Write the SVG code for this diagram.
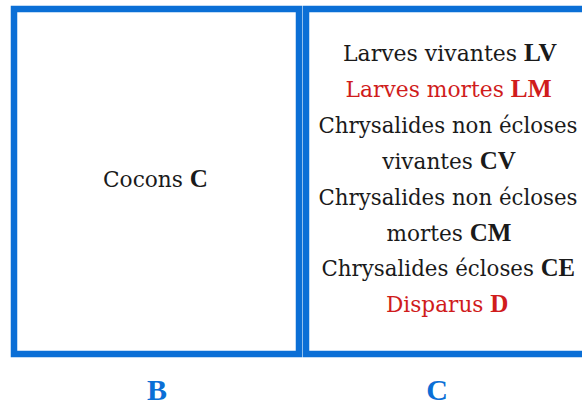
<svg xmlns="http://www.w3.org/2000/svg" width="582" height="405" viewBox="0 0 582 405">
<style>
.box{fill:#fff;stroke:#0b6fd6;stroke-width:6.5}
.t{font-family:'DejaVu Serif','Liberation Serif',serif;font-size:22px;fill:#1a1a1a;text-anchor:middle}
.r{fill:#d01c1c}
.b{font-family:'Liberation Serif','DejaVu Serif',serif;font-size:25.5px;font-weight:bold}
.lbl{font-family:'Liberation Serif','DejaVu Serif',serif;font-size:30px;font-weight:bold;fill:#0b6fd6;text-anchor:middle}
</style>
<rect width="582" height="405" fill="#fff"/>
<g id="nodeB">
<rect class="box" x="14" y="9" width="285" height="345"/>
<text class="t" x="155.5" y="187" textLength="105" lengthAdjust="spacingAndGlyphs">Cocons <tspan class="b">C</tspan></text>
</g>
<g id="nodeC">
<rect class="box" x="306" y="9" width="290" height="345"/>
<text class="t" x="450" y="61" textLength="214" lengthAdjust="spacingAndGlyphs">Larves vivantes <tspan class="b">LV</tspan></text>
<text class="t r" x="448.5" y="96.9" textLength="206" lengthAdjust="spacingAndGlyphs">Larves mortes <tspan class="b">LM</tspan></text>
<text class="t" x="448" y="132.8" textLength="259" lengthAdjust="spacingAndGlyphs">Chrysalides non écloses</text>
<text class="t" x="449" y="168.7" textLength="133.5" lengthAdjust="spacingAndGlyphs">vivantes <tspan class="b">CV</tspan></text>
<text class="t" x="448" y="204.6" textLength="259" lengthAdjust="spacingAndGlyphs">Chrysalides non écloses</text>
<text class="t" x="449" y="240.5" textLength="125" lengthAdjust="spacingAndGlyphs">mortes <tspan class="b">CM</tspan></text>
<text class="t" x="448.3" y="276.4" textLength="253.5" lengthAdjust="spacingAndGlyphs">Chrysalides écloses <tspan class="b">CE</tspan></text>
<text class="t r" x="447.2" y="312.3" textLength="122.5" lengthAdjust="spacingAndGlyphs">Disparus <tspan class="b">D</tspan></text>
</g>
<g id="labels">
<text class="lbl" x="157" y="399.5">B</text>
<text class="lbl" x="437" y="399.5">C</text>
</g>
<g id="connectors"/>
</svg>
